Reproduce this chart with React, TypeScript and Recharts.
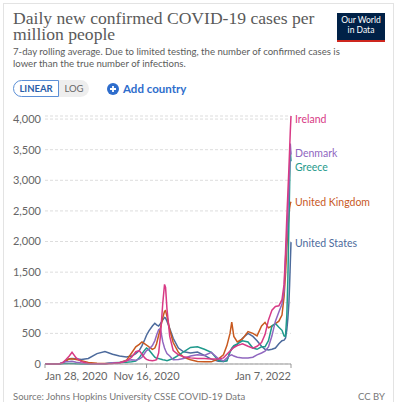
import { LineChart, Line, XAxis, YAxis, CartesianGrid } from 'recharts';

// days since Jan 28, 2020
const days = [0, 20, 40, 50, 60, 70, 78, 90, 105, 125, 150, 173, 195, 215, 235, 250, 262, 272, 280, 288, 293, 300, 310, 317, 322, 328, 333, 340, 345, 348, 352, 360, 370, 385, 400, 420, 440, 460, 480, 500, 515, 525, 534, 539, 545, 555, 570, 586, 600, 612, 625, 635, 645, 655, 665, 675, 684, 690, 694, 698, 701, 704, 706, 708, 710];

const unitedStates = [0, 0, 2, 15, 60, 85, 90, 85, 75, 90, 170, 205, 160, 130, 115, 130, 170, 220, 300, 400, 470, 540, 620, 665, 640, 620, 660, 720, 760, 750, 700, 580, 420, 260, 200, 180, 195, 140, 80, 45, 40, 55, 200, 240, 280, 320, 420, 500, 450, 380, 290, 240, 230, 240, 260, 330, 380, 390, 420, 560, 750, 1000, 1300, 1650, 1990];
const ireland = [0, 0, 2, 15, 70, 130, 190, 100, 40, 8, 4, 4, 10, 20, 50, 110, 200, 220, 160, 100, 75, 60, 55, 60, 70, 180, 450, 1000, 1300, 1250, 900, 450, 220, 150, 120, 100, 90, 90, 80, 80, 100, 160, 210, 240, 270, 300, 330, 290, 260, 290, 350, 480, 720, 880, 940, 950, 1050, 1300, 1800, 2400, 2800, 3200, 3500, 3800, 4050];
const denmark = [0, 0, 2, 20, 35, 40, 45, 30, 15, 5, 3, 5, 20, 15, 55, 70, 60, 80, 110, 180, 220, 240, 300, 380, 470, 560, 580, 360, 260, 220, 170, 130, 70, 75, 90, 130, 150, 140, 190, 90, 50, 100, 140, 150, 130, 110, 100, 100, 110, 150, 180, 210, 280, 460, 700, 850, 980, 1200, 1700, 2100, 2450, 2900, 3200, 3600, 3420];
const greece = [0, 0, 0, 3, 7, 10, 8, 3, 2, 2, 3, 5, 20, 25, 30, 35, 50, 100, 170, 230, 260, 230, 160, 110, 95, 90, 80, 70, 65, 60, 55, 70, 90, 140, 200, 270, 280, 240, 190, 60, 40, 50, 200, 260, 300, 330, 380, 360, 260, 240, 280, 280, 380, 620, 660, 600, 550, 460, 450, 800, 1400, 2300, 2900, 3480, 3310];
const unitedKingdom = [0, 0, 1, 15, 50, 80, 85, 75, 55, 25, 12, 10, 12, 20, 60, 180, 280, 320, 360, 330, 310, 280, 240, 260, 330, 470, 580, 760, 860, 870, 780, 560, 350, 190, 110, 70, 40, 35, 35, 80, 150, 300, 500, 683, 450, 360, 410, 530, 500, 460, 620, 680, 590, 620, 660, 700, 800, 1100, 1450, 1900, 2200, 2450, 2550, 2620, 2650];

const yTicks = [0, 500, 1000, 1500, 2000, 2500, 3000, 3500, 4000];
const xTicks = [0, 293, 710];
const xTickLabels = ['Jan 28, 2020', 'Nov 16, 2020', 'Jan 7, 2022'];

const data = days.map((d, i) => ({
  day: d,
  us: unitedStates[i],
  ie: ireland[i],
  dk: denmark[i],
  gr: greece[i],
  uk: unitedKingdom[i],
}));

const series = [
  { key: 'us', name: 'United States', color: '#4c6a9c', dy: 1 },
  { key: 'uk', name: 'United Kingdom', color: '#c8591f', dy: 1 },
  { key: 'gr', name: 'Greece', color: '#1f9a8c', dy: 6 },
  { key: 'dk', name: 'Denmark', color: '#9067bf', dy: -1 },
  { key: 'ie', name: 'Ireland', color: '#d83a85', dy: 3 },
];

const font = 'Lato, "Noto Sans", sans-serif';
const last = days.length - 1;

const XTick = (props: any) => {
  const { x, y, payload, index } = props;
  const anchor = index === 0 ? 'start' : index === xTicks.length - 1 ? 'end' : 'middle';
  return (
    <text x={x} y={y} dy="0.71em" textAnchor={anchor} fill="#666" fontSize={11} fontFamily={font}>
      {xTickLabels[xTicks.indexOf(payload.value)]}
    </text>
  );
};

const YTick = (props: any) => {
  const { x, y, payload } = props;
  return (
    <text x={x} y={y} dy="0.35em" textAnchor="end" fill="#666" fontSize={11} fontFamily={font}>
      {payload.value.toLocaleString('en-US')}
    </text>
  );
};

const endLabel = (name: string, color: string, dy: number) => (props: any) => {
  if (props.index !== last) return <g />;
  return (
    <text x={props.x + 4} y={props.y + dy} dy="0.35em" fill={color} fontSize={10.5} fontFamily={font}>
      {name}
    </text>
  );
};

export default function App() {
  return (
    <div style={{ position: 'absolute', left: 0, top: 0, width: 397, height: 402, background: '#fff', overflow: 'hidden', fontFamily: font }}>
      <div style={{ position: 'absolute', left: 3, top: 3, width: 389, height: 420, border: '1px solid #e3e3e3' }} />
      <div style={{ position: 'absolute', left: 13, top: 10, width: 310, fontFamily: '"Liberation Serif", serif', fontSize: 17.6, lineHeight: '16px', color: '#5a5a5a' }}>
        Daily new confirmed COVID-19 cases per million people
      </div>
      <div style={{ position: 'absolute', left: 13, top: 46, width: 340, fontSize: 9.6, lineHeight: '11.5px', color: '#5b5b5b' }}>
        7-day rolling average. Due to limited testing, the number of confirmed cases is lower than the true number of infections.
      </div>
      <div style={{ position: 'absolute', left: 337, top: 13, width: 48, height: 25, background: '#002147', borderBottom: '2px solid #ce261e', color: '#fff', fontSize: 8.5, lineHeight: '10px', textAlign: 'center', paddingTop: 2, boxSizing: 'content-box' }}>
        Our World<br />in Data
      </div>
      <div style={{ position: 'absolute', left: 13, top: 80, height: 17, display: 'flex', fontSize: 9.5, fontWeight: 700 }}>
        <div style={{ width: 44, border: '1px solid #5b8fd6', borderRadius: '9px 0 0 9px', color: '#2a5ea8', display: 'flex', alignItems: 'center', justifyContent: 'center', background: '#fff' }}>LINEAR</div>
        <div style={{ width: 30, borderRadius: '0 9px 9px 0', background: '#eee', color: '#666', display: 'flex', alignItems: 'center', justifyContent: 'center', fontWeight: 400 }}>LOG</div>
      </div>
      <div style={{ position: 'absolute', left: 107, top: 81, height: 15, display: 'flex', alignItems: 'center', color: '#2e6dcc', fontSize: 11.5, fontWeight: 700 }}>
        <svg width={12} height={12} style={{ marginRight: 4 }}>
          <circle cx={6} cy={6} r={6} fill="#2e6dcc" />
          <path d="M6 3v6M3 6h6" stroke="#fff" strokeWidth={1.8} />
        </svg>
        Add country
      </div>
      <div style={{ position: 'absolute', left: 0, top: 0 }}>
        <LineChart width={397} height={402} data={data} margin={{ top: 116, right: 106, bottom: 0, left: 0 }}>
          <CartesianGrid vertical={false} stroke="#ddd" strokeDasharray="3 2" />
          <XAxis
            dataKey="day"
            type="number"
            domain={[0, 710]}
            ticks={xTicks}
            height={38}
            axisLine={{ stroke: '#999' }}
            tickLine={{ stroke: '#999' }}
            tickSize={4}
            tickMargin={4}
            tick={<XTick />}
            interval={0}
          />
          <YAxis
            type="number"
            domain={[0, 4000]}
            ticks={yTicks}
            width={45}
            axisLine={false}
            tickLine={false}
            tickSize={0}
            tickMargin={4}
            tick={<YTick />}
            interval={0}
          />
          {series.map((s) => (
            <Line
              key={s.key}
              type="linear"
              dataKey={s.key}
              stroke={s.color}
              strokeWidth={1.5}
              dot={false}
              activeDot={false}
              isAnimationActive={false}
              label={endLabel(s.name, s.color, s.dy)}
            />
          ))}
        </LineChart>
      </div>
      <div style={{ position: 'absolute', left: 13, top: 391, fontSize: 9.5, color: '#777' }}>
        Source: Johns Hopkins University CSSE COVID-19 Data
      </div>
      <div style={{ position: 'absolute', left: 358, top: 391, fontSize: 9.5, color: '#777' }}>CC BY</div>
    </div>
  );
}
